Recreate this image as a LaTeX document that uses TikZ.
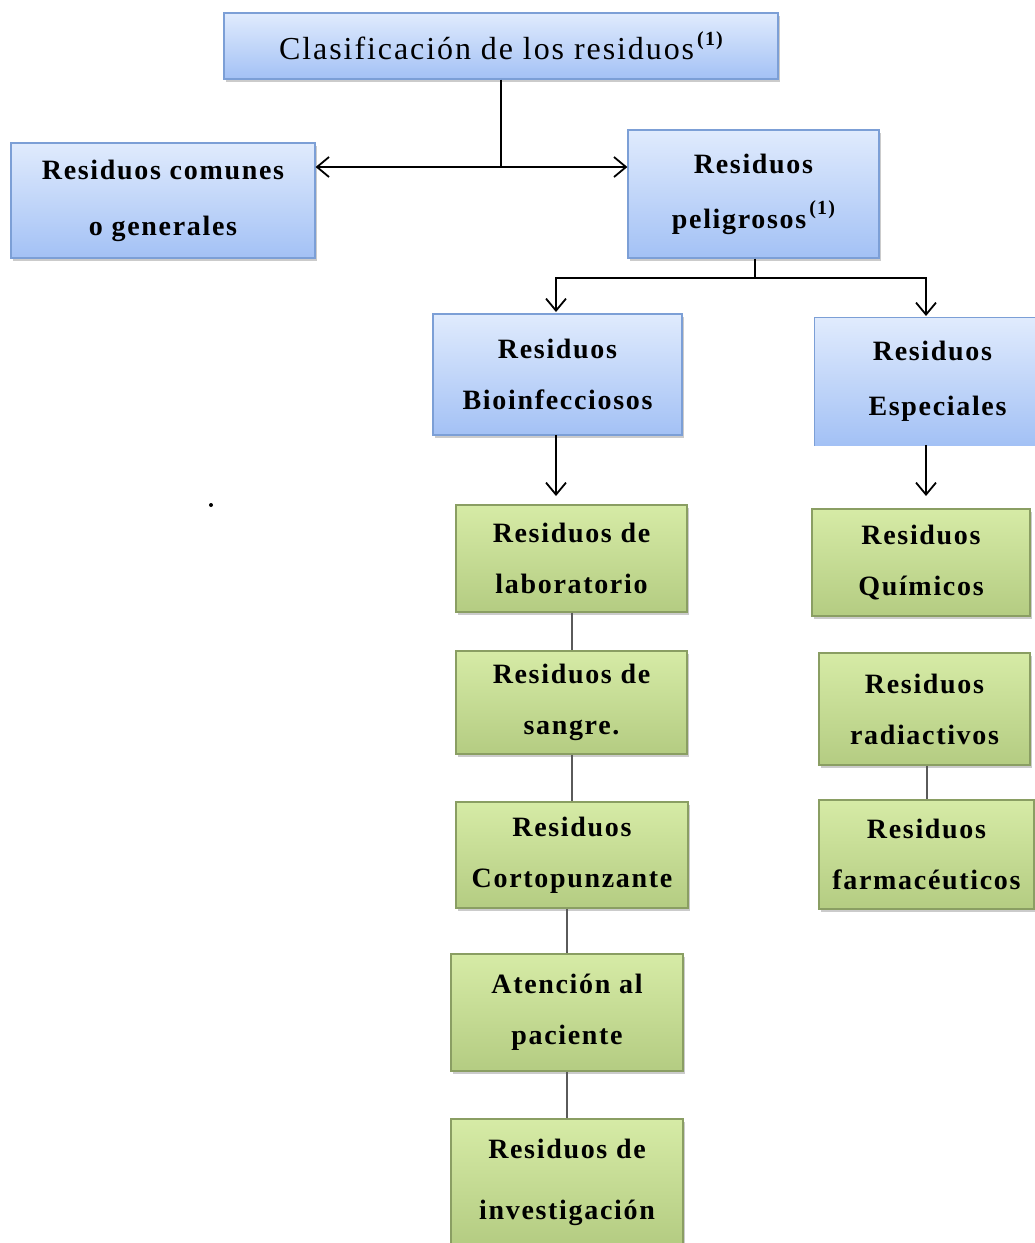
\documentclass[tikz,border=0pt]{standalone}
\usepackage{fontspec}
\setmainfont{Liberation Serif}[LetterSpace=6]
\usetikzlibrary{arrows.meta,shadows}
\definecolor{bluetop}{HTML}{E0EBFD}
\definecolor{bluebot}{HTML}{A3C1F5}
\definecolor{blueline}{HTML}{7C9FD6}
\definecolor{greentop}{HTML}{D6EBA6}
\definecolor{greenbot}{HTML}{B4CC82}
\definecolor{greenline}{HTML}{8A9E63}
\definecolor{greyline}{HTML}{5A5A5A}
\newcommand\btxt{\fontsize{28}{51}\selectfont\bfseries}
\newcommand\ttxt{\fontsize{32}{40}\selectfont}
\newcommand\supone{\hspace{3pt}\raisebox{14pt}{\bfseries\fontsize{20}{20}\selectfont(1)}}
\tikzset{
  boxbase/.style={rectangle, inner sep=0pt, align=center, font=\btxt, line width=1.2pt},
  shad/.style={drop shadow={shadow xshift=2pt, shadow yshift=-3pt, fill=black!45, opacity=0.45}},
  bluebox/.style={boxbase, shad, top color=bluetop, bottom color=bluebot, draw=blueline},
  greenbox/.style={boxbase, shad, top color=greentop, bottom color=greenbot, draw=greenline},
  arr/.style={line width=1.8pt, black, -{Straight Barb[length=12pt,width=20pt,line width=1.8pt]}},
  blk/.style={line width=1.8pt, black},
  gry/.style={line width=2pt, greyline},
}
\begin{document}
\begin{tikzpicture}[x=1pt,y=-1pt]
\useasboundingbox (0,0) rectangle (1035,1243);
\clip (0,0) rectangle (1035,1243);
\fill[white] (0,0) rectangle (1035,1243);
% blue boxes
\node[bluebox, minimum width=554pt, minimum height=66pt, font=\ttxt] (title) at (501,46) {Clasificación de los residuos\supone};
\node[bluebox, minimum width=304pt, minimum height=115pt] (comunes) at (163,200.5) {Residuos comunes\\[5pt]o generales};
\node[bluebox, minimum width=251pt, minimum height=128pt] (pelig) at (753.5,194) {Residuos\\[4pt]peligrosos\supone};
\node[bluebox, minimum width=249pt, minimum height=121pt] (bio) at (557.5,374.5) {Residuos\\Bioinfecciosos};
\node[boxbase, top color=bluetop, bottom color=bluebot, draw=none, minimum width=235pt, minimum height=127pt] (esp) at (932.5,381.5) {Residuos\\[4pt]\hspace{10pt}Especiales};
\draw[blueline, line width=1.2pt] (esp.south west) -- (esp.north west) -- (esp.north east);
% green boxes
\node[greenbox, minimum width=231pt, minimum height=107pt] (lab) at (571.5,558.5) {Residuos de\\laboratorio};
\node[greenbox, minimum width=231pt, minimum height=103pt] (sangre) at (571.5,702.5) {Residuos de\\sangre.};
\node[greenbox, minimum width=232pt, minimum height=106pt] (corto) at (572,855) {Residuos\\Cortopunzante};
\node[greenbox, minimum width=232pt, minimum height=117pt] (aten) at (567,1012.5) {Atención al\\paciente};
\node[greenbox, minimum width=232pt, minimum height=126pt] (inv) at (567,1182) {Residuos de\\[10pt]investigación};
\node[greenbox, minimum width=218pt, minimum height=107pt] (quim) at (921,562.5) {Residuos\\Químicos};
\node[greenbox, minimum width=211pt, minimum height=112pt] (rad) at (924.5,709) {Residuos\\radiactivos};
\node[greenbox, minimum width=215pt, minimum height=109pt] (farm) at (926.5,854.5) {Residuos\\farmacéuticos};
% dot
\node[circle, fill=black, inner sep=0pt, minimum size=4pt] (dot) at (211,505) {};
% connectors
\coordinate (j1) at (501,167);
\draw[blk] (title.south) -- (j1);
\draw[arr] (j1) -- (comunes.east |- j1);
\draw[arr] (j1) -- (pelig.west |- j1);
\coordinate (j2) at (755,278);
\coordinate (espin) at (926,316);
\coordinate (bioin) at (556,312);
\draw[blk] (pelig.south -| j2) -- (j2);
\draw[arr] (j2) -| (bioin);
\draw[arr] (j2) -| (espin);
\coordinate (bioout) at (556,435);
\coordinate (labin) at (556,496);
\draw[arr] (bioout) -- (labin);
\coordinate (espout) at (926,445);
\coordinate (quimin) at (926,496);
\draw[arr] (espout) -- (quimin);
\draw[gry] (lab.south) -- (sangre.north);
\draw[gry] (sangre.south) -- (corto.north -| sangre.south);
\draw[gry] (corto.south -| aten.north) -- (aten.north);
\draw[gry] (aten.south) -- (inv.north);
\draw[gry] (rad.south -| farm.north) -- (farm.north);
\end{tikzpicture}
\end{document}
